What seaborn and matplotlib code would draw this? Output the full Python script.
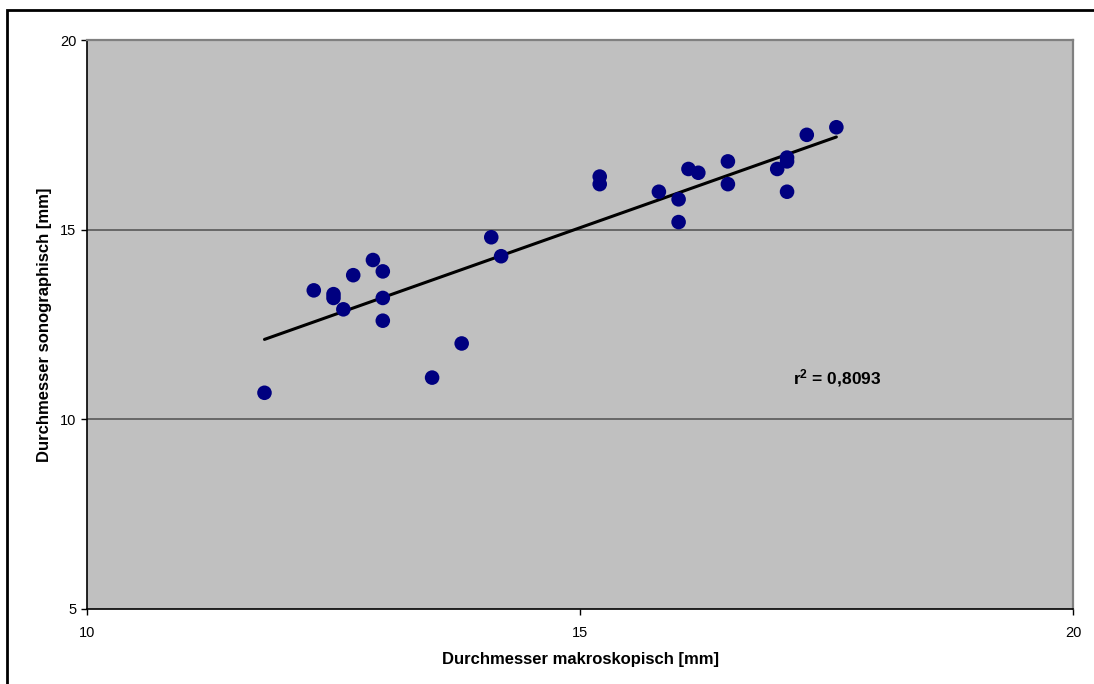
import numpy as np
import pandas as pd
import matplotlib
matplotlib.use('Agg')
import matplotlib.pyplot as plt
import seaborn as sns
from matplotlib.patches import Rectangle

makro = [11.8, 12.3, 12.5, 12.5, 12.6, 12.7, 12.9, 13.0, 13.0, 13.0,
         13.5, 13.8, 14.1, 14.2, 15.2, 15.2, 15.8, 16.0, 16.0, 16.1,
         16.2, 16.5, 16.5, 17.0, 17.1, 17.1, 17.1, 17.3, 17.6]
sono = [10.7, 13.4, 13.3, 13.2, 12.9, 13.8, 14.2, 13.9, 13.2, 12.6,
        11.1, 12.0, 14.8, 14.3, 16.4, 16.2, 16.0, 15.8, 15.2, 16.6,
        16.5, 16.8, 16.2, 16.6, 16.9, 16.8, 16.0, 17.5, 17.7]
x_ticks = [10, 15, 20]
y_ticks = [5, 10, 15, 20]
r2_text = 'r$^2$ = 0,8093'

sns.set_style('white')
plt.rcParams['font.family'] = ['Liberation Sans', 'DejaVu Sans']
plt.rcParams['text.color'] = 'black'
plt.rcParams['axes.labelcolor'] = 'black'
plt.rcParams['xtick.color'] = 'black'
plt.rcParams['ytick.color'] = 'black'
plt.rcParams['mathtext.default'] = 'regular'

df = pd.DataFrame({'makro': makro, 'sono': sono})

fig = plt.figure(figsize=(10.94, 6.84), dpi=100)
ax = fig.add_axes([87 / 1094, 1 - 609 / 684, (1073 - 87) / 1094, (609 - 40) / 684])
ax.set_facecolor('#C0C0C0')

# Rahmen um das ganze Diagramm
fig.patches.append(Rectangle((7 / 1094, -0.1), 1.2, 1 - 10 / 684 + 0.1,
                             transform=fig.transFigure, fill=False,
                             edgecolor='black', linewidth=2))

for yv in [10, 15]:
    ax.axhline(yv, color='#606060', linewidth=1.3, zorder=1)

# Regressionsgerade
coef = np.polyfit(df['makro'], df['sono'], 1)
xs = np.array([min(makro), max(makro)])
ax.plot(xs, np.polyval(coef, xs), color='black', linewidth=2.2, zorder=2)

sns.scatterplot(data=df, x='makro', y='sono', ax=ax, color='#000080',
                s=110, edgecolor='none', zorder=3)

ax.set_xlim(10, 20)
ax.set_ylim(5, 20)
ax.set_xticks(x_ticks)
ax.set_yticks(y_ticks)
ax.tick_params(axis='both', labelsize=10.5, direction='out', length=4,
               width=1, color='black', left=True, bottom=True)
ax.tick_params(axis='x', pad=8)

for side in ['left', 'bottom']:
    ax.spines[side].set_color('black')
    ax.spines[side].set_linewidth(1.2)
for side in ['right', 'top']:
    ax.spines[side].set_color('#808080')
    ax.spines[side].set_linewidth(1.6)

ax.set_xlabel('Durchmesser makroskopisch [mm]', fontsize=12, fontweight='bold', labelpad=9)
ax.set_ylabel('Durchmesser sonographisch [mm]', fontsize=12, fontweight='bold', labelpad=6)

ax.text(17.16, 11.1, r2_text, fontsize=12.5, fontweight='bold', ha='left', va='center')

fig.savefig('out.png', dpi=100)
